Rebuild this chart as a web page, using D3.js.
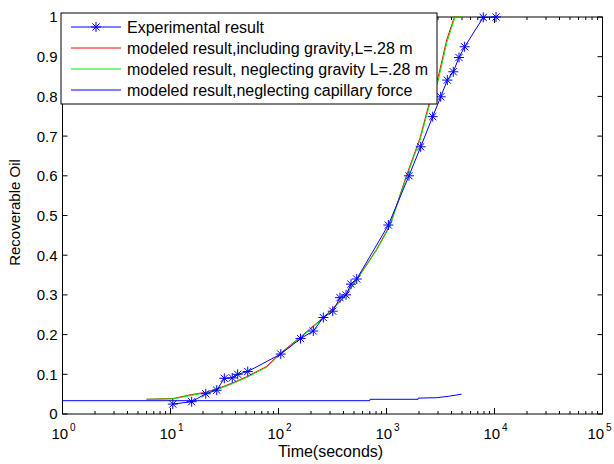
<!DOCTYPE html>
<html>
<head>
<meta charset="utf-8">
<script src="https://cdn.jsdelivr.net/npm/d3@7"></script>
<style>
  body { margin: 0; background: #fff; }
  text { font-family: Arial, "Liberation Sans", sans-serif; }
</style>
</head>
<body>
<div id="chart"></div>
<script>
// experimental result
const expTime = [10.5, 15.7, 21.2, 26.8, 31.5, 37.3, 41.9, 51.9, 105, 160, 210, 260, 318, 371, 422, 469, 530, 1040, 1615, 2073, 2678, 3177, 3657, 4155, 4690, 5295, 7870, 10330];
const expOil = [0.025, 0.031, 0.051, 0.060, 0.090, 0.091, 0.100, 0.107, 0.151, 0.190, 0.209, 0.243, 0.259, 0.293, 0.300, 0.327, 0.340, 0.476, 0.600, 0.673, 0.749, 0.799, 0.841, 0.862, 0.898, 0.925, 0.999, 1.0];

// modeled, including gravity (red)
const gravTime = [6.0, 10.6, 15.7, 21.6, 28.7, 38.1, 50.8, 77.8, 103, 158, 260, 398, 530, 811, 1077, 1538, 2042, 2528, 3020, 3608, 4250, 4900];
const gravOil = [0.037, 0.039, 0.049, 0.055, 0.066, 0.079, 0.094, 0.120, 0.152, 0.193, 0.243, 0.292, 0.338, 0.415, 0.476, 0.602, 0.695, 0.790, 0.850, 0.942, 1.0, 1.0];

// modeled, neglecting gravity (green)
const noGravTime = [6.0, 10.6, 15.7, 21.6, 28.7, 38.1, 50.8, 77.8, 103, 158, 260, 398, 530, 811, 1077, 1538, 2042, 2528, 3020, 3608, 4307, 5010];
const noGravOil = [0.037, 0.038, 0.047, 0.054, 0.064, 0.077, 0.092, 0.118, 0.150, 0.191, 0.241, 0.291, 0.337, 0.413, 0.473, 0.598, 0.690, 0.783, 0.841, 0.934, 1.0, 1.0];

// modeled, neglecting capillary force (blue)
const noCapTime = [1, 700, 705, 1960, 1970, 2900, 3850, 4970];
const noCapOil = [0.0335, 0.0335, 0.037, 0.037, 0.040, 0.041, 0.045, 0.050];

const xTicks = [1, 10, 100, 1000, 10000, 100000];
const yTicks = [0, 0.1, 0.2, 0.3, 0.4, 0.5, 0.6, 0.7, 0.8, 0.9, 1];
const legendNames = [
  "Experimental result",
  "modeled result,including gravity,L=.28 m",
  "modeled result, neglecting gravity L=.28 m",
  "modeled result,neglecting capillary force"
];

let margin = { top: 17, right: 11.5, bottom: 50, left: 62.5 },
  width = 614 - margin.left - margin.right,
  height = 464 - margin.top - margin.bottom;

let svg = d3.select("#chart").append("svg")
  .attr("width", 614)
  .attr("height", 464)
  .append("g")
  .attr("transform", "translate(" + margin.left + "," + margin.top + ")");

let x = d3.scaleLog().domain([1, 100000]).range([0, width]);
let y = d3.scaleLinear().domain([0, 1]).range([height, 0]);

// minor ticks for the log axis
let minorTicks = x.ticks().filter(d => xTicks.indexOf(d) < 0);

function drawXTicks(yPos, dir) {
  let g = svg.append("g");
  g.selectAll(".maj").data(xTicks).enter().append("line")
    .attr("x1", d => x(d)).attr("x2", d => x(d))
    .attr("y1", yPos).attr("y2", yPos + dir * 6)
    .attr("stroke", "#000");
  g.selectAll(".min").data(minorTicks).enter().append("line")
    .attr("x1", d => x(d)).attr("x2", d => x(d))
    .attr("y1", yPos).attr("y2", yPos + dir * 3)
    .attr("stroke", "#000");
}
drawXTicks(height, -1);
drawXTicks(0, 1);

function drawYTicks(xPos, dir) {
  svg.append("g").selectAll("line").data(yTicks).enter().append("line")
    .attr("x1", xPos).attr("x2", xPos + dir * 5)
    .attr("y1", d => y(d)).attr("y2", d => y(d))
    .attr("stroke", "#000");
}
drawYTicks(0, 1);
drawYTicks(width, -1);

// y tick labels
svg.append("g").selectAll("text").data(yTicks).enter().append("text")
  .attr("x", -5)
  .attr("y", d => y(d))
  .attr("dy", "0.36em")
  .attr("text-anchor", "end")
  .style("font-size", "15px")
  .text(d => d3.format("")(+d.toFixed(1)));

// x tick labels 10^n (last one nudged in so it is not clipped)
let xl = svg.append("g").selectAll("text").data(xTicks).enter().append("text")
  .attr("x", (d, i) => x(d) + (i === xTicks.length - 1 ? -3 : 1))
  .attr("y", height + 25)
  .attr("text-anchor", "middle")
  .style("font-size", "15px");
xl.append("tspan").text("10");
xl.append("tspan")
  .attr("dx", 2)
  .attr("dy", -8)
  .style("font-size", "10px")
  .text(d => Math.round(Math.log10(d)));

// box
svg.append("rect")
  .attr("width", width).attr("height", height)
  .attr("fill", "none").attr("stroke", "#000");

let line = d3.line().x(d => x(d[0])).y(d => y(d[1]));

svg.append("path")
  .datum(d3.zip(noCapTime, noCapOil))
  .attr("d", line).attr("fill", "none").attr("stroke", "#0000ff");

svg.append("path")
  .datum(d3.zip(gravTime, gravOil))
  .attr("d", line).attr("fill", "none").attr("stroke", "#ff0000");

svg.append("path")
  .datum(d3.zip(noGravTime, noGravOil))
  .attr("d", line).attr("fill", "none").attr("stroke", "#00ee00");

svg.append("path")
  .datum(d3.zip(expTime, expOil))
  .attr("d", line).attr("fill", "none").attr("stroke", "#0000ff");

function star(g, cx, cy) {
  let r = 5, r2 = 3.6;
  g.append("path")
    .attr("d", `M${cx - r},${cy}L${cx + r},${cy}M${cx},${cy - r}L${cx},${cy + r}` +
      `M${cx - r2},${cy - r2}L${cx + r2},${cy + r2}M${cx - r2},${cy + r2}L${cx + r2},${cy - r2}`)
    .attr("stroke", "#0000ff").attr("fill", "none");
}
let marks = svg.append("g");
expTime.forEach((t, i) => star(marks, x(t), y(expOil[i])));

// legend
let leg = svg.append("g").attr("transform", "translate(-1.5,-4)");
leg.append("rect")
  .attr("width", 376).attr("height", 91)
  .attr("fill", "#fff").attr("stroke", "#000");
let legColors = ["#0000ff", "#ff0000", "#00ee00", "#0000ff"];
legendNames.forEach((name, i) => {
  let ly = 14 + i * 21;
  leg.append("line")
    .attr("x1", 10).attr("x2", 60)
    .attr("y1", ly).attr("y2", ly)
    .attr("stroke", legColors[i]);
  if (i === 0) star(leg, 35, ly);
  leg.append("text")
    .attr("x", 66).attr("y", ly)
    .attr("dy", "0.36em")
    .style("font-size", "16px")
    .text(name);
});

// axis titles
svg.append("text")
  .attr("x", width / 2 - 2)
  .attr("y", height + 43)
  .attr("text-anchor", "middle")
  .style("font-size", "16px")
  .text("Time(seconds)");

svg.append("text")
  .attr("transform", "translate(" + (-42.5) + "," + (height / 2 - 3) + ") rotate(-90)")
  .attr("text-anchor", "middle")
  .style("font-size", "15px")
  .text("Recoverable Oil");
</script>
</body>
</html>
